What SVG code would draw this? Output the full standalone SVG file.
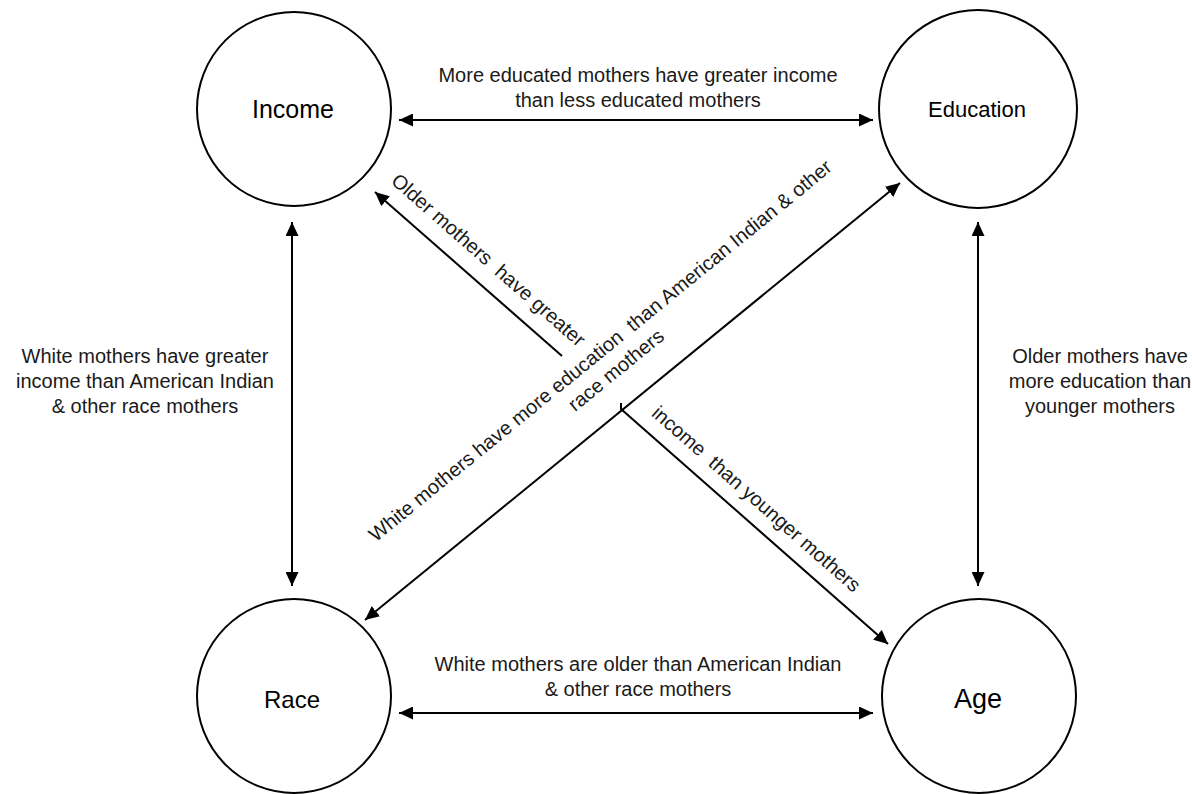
<svg xmlns="http://www.w3.org/2000/svg" width="1192" height="794" viewBox="0 0 1192 794">
<style>
  .node circle { fill: #ffffff; stroke: #000000; stroke-width: 2; }
  .node text { font-family: "Liberation Sans", Arial, sans-serif; fill: #000000; text-anchor: middle; }
  .conn line, .conn path { stroke: #000000; stroke-width: 2; fill: none; }
  .lbl { font-family: "Liberation Sans", Arial, sans-serif; font-size: 20px; fill: #1a1a1a; white-space: pre; }
  .mid { text-anchor: middle; }
</style>
<defs>
  <marker id="ah" markerUnits="userSpaceOnUse" markerWidth="15" markerHeight="13" refX="14" refY="6.5" orient="auto-start-reverse">
    <path d="M0,0 L14,6.5 L0,13 Z" fill="#000000"/>
  </marker>
</defs>
<rect width="1192" height="794" fill="#ffffff"/>

<g id="income" class="node">
  <circle cx="294" cy="109" r="97"/>
  <text x="293" y="118" font-size="25">Income</text>
</g>
<g id="education" class="node">
  <circle cx="978" cy="109" r="99"/>
  <text x="977" y="117" font-size="22">Education</text>
</g>
<g id="race" class="node">
  <circle cx="294" cy="696" r="97"/>
  <text x="292" y="708" font-size="24">Race</text>
</g>
<g id="age" class="node">
  <circle cx="979" cy="696" r="97"/>
  <text x="978" y="708" font-size="27">Age</text>
</g>

<g id="connectors" class="conn">
  <line x1="399" y1="120" x2="873" y2="120" marker-start="url(#ah)" marker-end="url(#ah)"/>
  <line x1="399" y1="713" x2="873" y2="713" marker-start="url(#ah)" marker-end="url(#ah)"/>
  <line x1="292" y1="222" x2="292" y2="586" marker-start="url(#ah)" marker-end="url(#ah)"/>
  <line x1="978" y1="222" x2="978" y2="586" marker-start="url(#ah)" marker-end="url(#ah)"/>
  <line x1="900" y1="183" x2="365" y2="620" marker-start="url(#ah)" marker-end="url(#ah)"/>
  <line x1="562" y1="356" x2="375" y2="192" marker-end="url(#ah)"/>
  <path d="M621,403 L621,409 L888,644" marker-end="url(#ah)"/>
</g>

<g id="labels">
  <text class="lbl mid" x="638" y="82">More educated mothers have greater income</text>
  <text class="lbl mid" x="638" y="107">than less educated mothers</text>

  <text class="lbl mid" x="638" y="671">White mothers are older than American Indian</text>
  <text class="lbl mid" x="638" y="696">&amp; other race mothers</text>

  <text class="lbl mid" x="145" y="363">White mothers have greater</text>
  <text class="lbl mid" x="145" y="388">income than American Indian</text>
  <text class="lbl mid" x="145" y="413">&amp; other race mothers</text>

  <text class="lbl mid" x="1100" y="363">Older mothers have</text>
  <text class="lbl mid" x="1100" y="388">more education than</text>
  <text class="lbl mid" x="1100" y="413">younger mothers</text>

  <g transform="translate(638,397) rotate(-39.2)">
    <text class="lbl mid" x="0" y="-53">White mothers have more education  than American Indian &amp; other</text>
    <text class="lbl mid" x="0" y="-28">race mothers</text>
  </g>
  <g transform="translate(375,192) rotate(41.3)">
    <text class="lbl" x="5" y="-17" font-size="19">Older mothers  have greater</text>
  </g>
  <g transform="translate(621,409) rotate(41.3)">
    <text class="lbl" x="26" y="-15">income  than younger mothers</text>
  </g>
</g>
</svg>
